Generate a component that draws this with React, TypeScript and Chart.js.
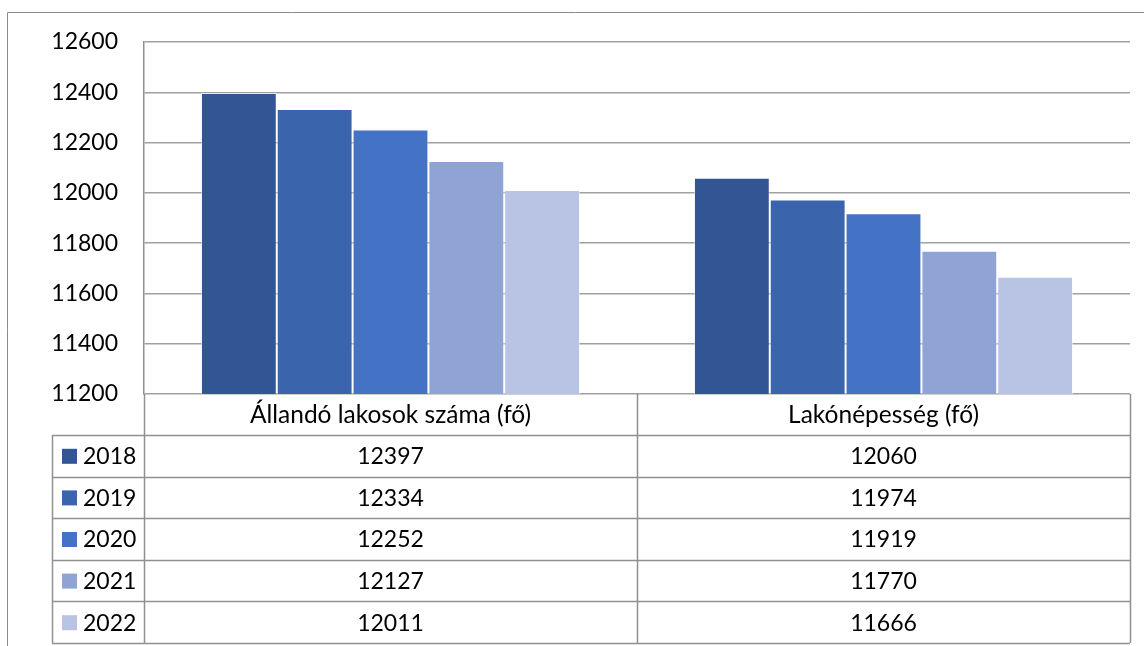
import React, { useEffect, useRef } from "react";
import { Chart, registerables } from "chart.js";

Chart.register(...registerables);

const categories = ["Állandó lakosok száma (fő)", "Lakónépesség (fő)"];
const years = ["2018", "2019", "2020", "2021", "2022"];
const values2018 = [12397, 12060];
const values2019 = [12334, 11974];
const values2020 = [12252, 11919];
const values2021 = [12127, 11770];
const values2022 = [12011, 11666];
const seriesValues = [values2018, values2019, values2020, values2021, values2022];
const colors = ["#325593", "#3A64AC", "#4472C4", "#8FA4D4", "#B9C3E3"];
const yMin = 11200;
const yMax = 12600;
const yStep = 200;

const FONT = "Lato, 'Liberation Sans', sans-serif";
const FONT_SIZE = 23;
const HEADER_FONT_SIZE = 24.5;
const LINE = "#909090";

const tablePlugin = {
  id: "dataTable",
  afterDraw(chart: any) {
    const ctx = chart.ctx as CanvasRenderingContext2D;
    const area = chart.chartArea;
    const xs = chart.scales.x;
    const left = area.left;
    const right = area.right;
    const top = area.bottom;
    const headerH = 41;
    const rowH = 41.6;
    const legendLeft = 52;
    const n = years.length;
    const bottom = top + headerH + rowH * n;

    ctx.save();
    ctx.strokeStyle = "#8a8a8a";
    ctx.lineWidth = 1;
    ctx.beginPath();
    ctx.moveTo(7.5, chart.height);
    ctx.lineTo(7.5, 12.5);
    ctx.lineTo(chart.width, 12.5);
    ctx.stroke();

    ctx.strokeStyle = LINE;
    ctx.lineWidth = 1.5;
    ctx.beginPath();
    const nCat = categories.length;
    const catW = (right - left) / nCat;
    for (let i = 0; i <= nCat; i++) {
      const x = Math.round(left + catW * i) + 0.5;
      ctx.moveTo(x, top);
      ctx.lineTo(x, bottom);
    }
    ctx.moveTo(legendLeft + 0.5, top + headerH);
    ctx.lineTo(legendLeft + 0.5, bottom);
    for (let r = 0; r <= n; r++) {
      const y = Math.round(top + headerH + rowH * r) + 0.5;
      ctx.moveTo(legendLeft, y);
      ctx.lineTo(right, y);
    }
    ctx.stroke();

    ctx.fillStyle = "#000";
    ctx.font = `${HEADER_FONT_SIZE}px ${FONT}`;
    ctx.textAlign = "center";
    ctx.textBaseline = "middle";
    categories.forEach((c, i) => {
      const cx = xs.getPixelForValue(i);
      ctx.fillText(c, cx, top + headerH / 2 + 1);
    });
    ctx.font = `${FONT_SIZE}px ${FONT}`;
    years.forEach((yr, r) => {
      const cy = top + headerH + rowH * r + rowH / 2 + 1;
      seriesValues[r].forEach((v, i) => {
        const cx = xs.getPixelForValue(i);
        ctx.textAlign = "center";
        ctx.fillStyle = "#000";
        ctx.fillText(String(v), cx, cy);
      });
      ctx.fillStyle = colors[r];
      ctx.fillRect(62, cy - 8, 15, 15);
      ctx.fillStyle = "#000";
      ctx.textAlign = "left";
      ctx.fillText(yr, 83, cy);
    });
    ctx.restore();
  },
};

export default function App() {
  const ref = useRef<HTMLCanvasElement>(null);
  useEffect(() => {
    if (!ref.current) return;
    const chart = new Chart(ref.current, {
      type: "bar",
      data: {
        labels: categories,
        datasets: years.map((y, i) => ({
          label: y,
          data: seriesValues[i],
          backgroundColor: colors[i],
          borderColor: "rgba(255,255,255,0.55)",
          borderWidth: 1,
          categoryPercentage: 0.769,
          barPercentage: 1,
        })),
      },
      options: {
        responsive: false,
        animation: false,
        layout: { padding: { left: 0, top: 42, right: 14, bottom: 252 } },
        plugins: { legend: { display: false }, tooltip: { enabled: false } },
        scales: {
          x: { display: false },
          y: {
            min: yMin,
            max: yMax,
            ticks: {
              stepSize: yStep,
              padding: 26,
              color: "#000",
              font: { family: FONT, size: FONT_SIZE },
              callback: (v: any) => String(v),
            },
            grid: { color: "#a0a0a0", lineWidth: 1.5, drawTicks: false },
            border: { display: true, color: LINE, width: 1.5 },
            afterFit: (scale: any) => {
              scale.width = 144;
            },
          },
        },
      },
      plugins: [tablePlugin],
    });
    return () => chart.destroy();
  }, []);
  return (
    <div style={{ position: "fixed", left: 0, top: 0, width: 1144, height: 646, background: "#fff" }}>
      <canvas ref={ref} width={1144} height={646} />
    </div>
  );
}
